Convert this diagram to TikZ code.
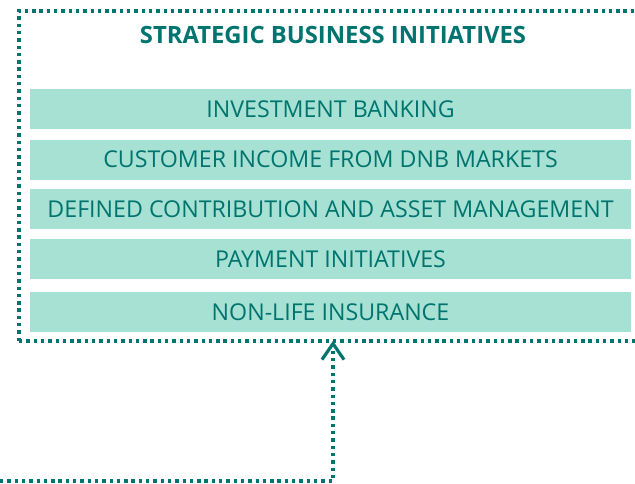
\documentclass[tikz,border=0pt]{standalone}
\usepackage{fontspec}
\setmainfont{Open Sans}
\usetikzlibrary{arrows.meta}
\definecolor{teal1}{RGB}{0,116,111}
\definecolor{mint}{RGB}{166,225,211}
\tikzset{
  dotline/.style={draw=teal1, line width=3.6pt, dash pattern=on 3.4pt off 3.9pt},
  bar/.style={fill=mint, minimum width=601pt, minimum height=40pt, inner sep=0pt,
    text=teal1, font=\fontsize{23.2}{26}\selectfont, anchor=center},
  ttl/.style={text=teal1, font=\fontsize{23.8}{26}\selectfont\bfseries, inner sep=0pt},
}
\begin{document}
\begin{tikzpicture}[x=1pt,y=-1pt]
\useasboundingbox (0,0) rectangle (635,483);
\node[dotline, minimum width=628pt, minimum height=330pt, inner sep=0pt] (frame) at (333,176) {};
\node[ttl] (title) at (333,35) {STRATEGIC BUSINESS INITIATIVES};
\node[bar] (b1) at (330.5,109) {INVESTMENT BANKING};
\node[bar] (b2) at (330.5,159.5) {CUSTOMER INCOME FROM DNB MARKETS};
\node[bar] (b3) at (330.5,209) {DEFINED CONTRIBUTION AND ASSET MANAGEMENT};
\node[bar] (b4) at (330.5,259) {PAYMENT INITIATIVES};
\node[bar] (b5) at (330.5,312) {NON-LIFE INSURANCE};
\coordinate (src) at (0,481);
\draw[dotline, -{Straight Barb[length=16pt,width=22pt,line width=3.2pt]}] (src) -| ([yshift=2pt]frame.south);
\end{tikzpicture}
\end{document}
